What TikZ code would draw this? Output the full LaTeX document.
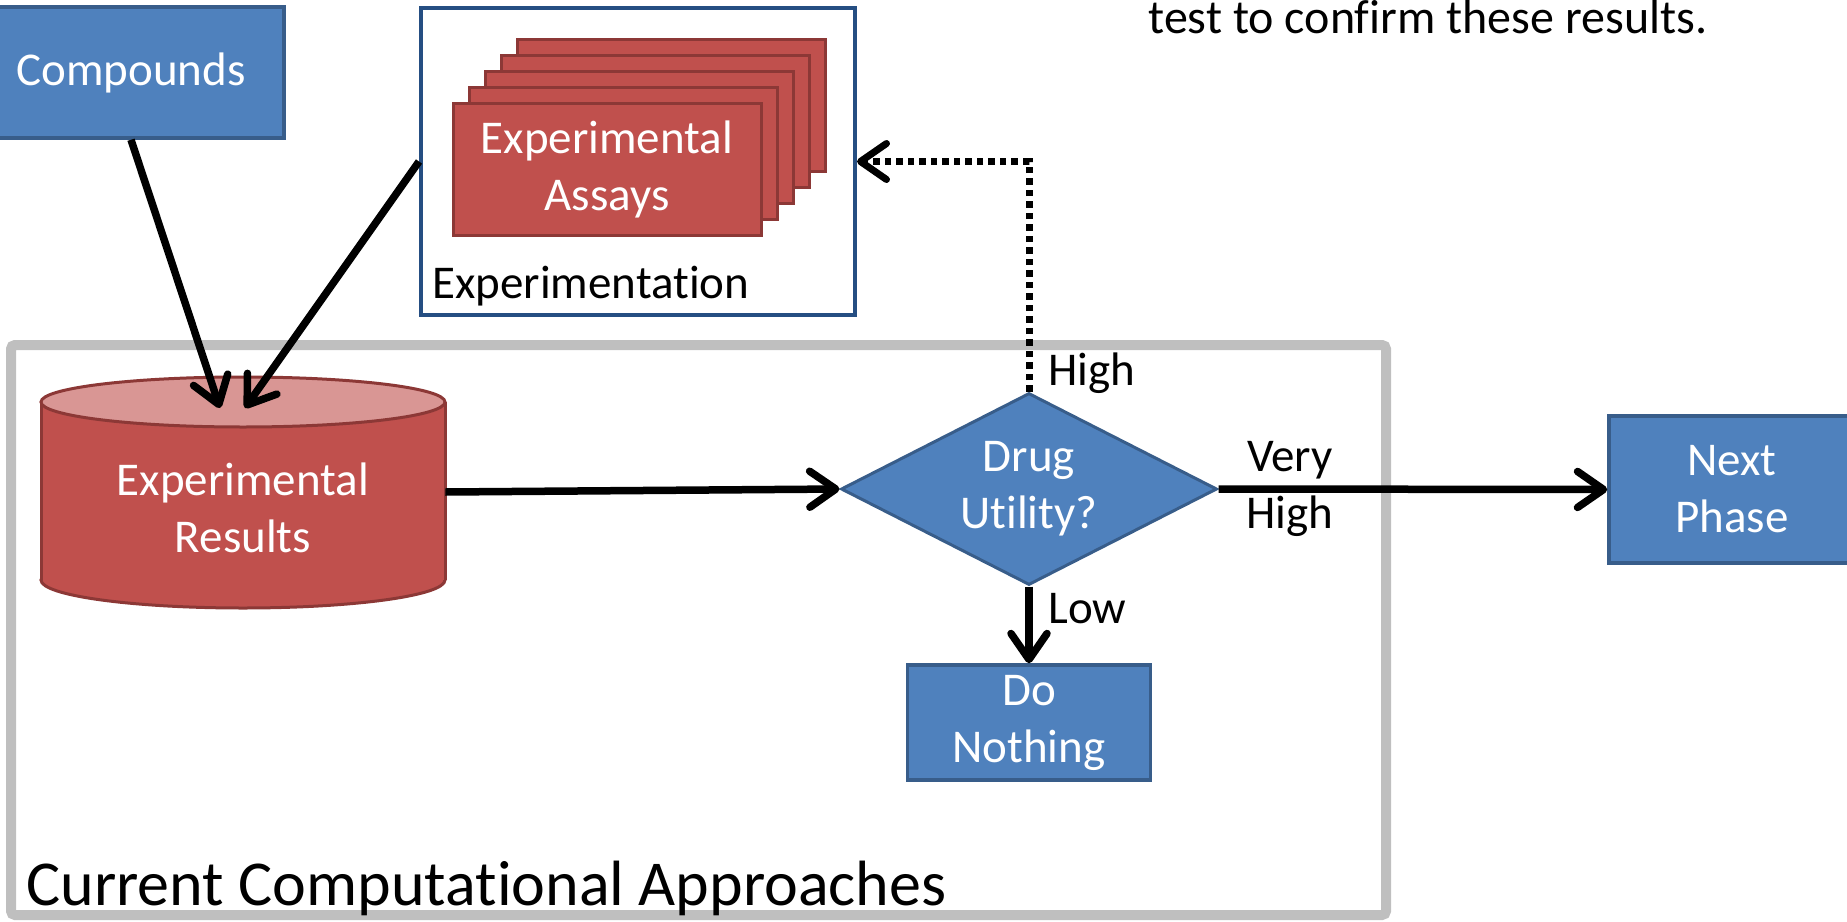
\documentclass[tikz,border=0pt]{standalone}
\usepackage{fontspec}
\setmainfont{Carlito}[Ligatures={NoCommon,NoContextual,NoRare}]
\usetikzlibrary{arrows.meta,shapes.geometric}
\definecolor{boxblue}{HTML}{4F81BD}
\definecolor{boxblueborder}{HTML}{385D8A}
\definecolor{boxred}{HTML}{C0504D}
\definecolor{boxredborder}{HTML}{8C3836}
\definecolor{cyltop}{HTML}{D99694}
\definecolor{greyframe}{HTML}{BFBFBF}
\definecolor{expborder}{HTML}{254E82}
\begin{document}
\begin{tikzpicture}[x=0.5pt,y=-0.5pt,
  txt/.style={font=\fontsize{23.5}{28.5}\selectfont, align=center},
  bluebox/.style={txt, draw=boxblueborder, fill=boxblue, line width=1.75pt, text=white, inner sep=0pt},
  redbox/.style={draw=boxredborder, fill=boxred, line width=1.5pt, inner sep=0pt, minimum width=154pt, minimum height=66pt},
  conn/.style={line width=3.75pt, -{Straight Barb[length=13pt,width=18pt,round]}, black},
  lbl/.style={txt, inner sep=0pt, text=black},
]
\useasboundingbox (0,0) rectangle (1847,921);
\clip (0,0) rectangle (1847,921);

% grey frame
\node[draw=greyframe, line width=5pt, rounded corners=2pt, minimum width=687.5pt, minimum height=285pt, inner sep=0pt] (frame) at (698.5,630) {};
\node[lbl, font=\fontsize{32}{38}\selectfont, anchor=base west] (cca) at (26,905) {Current Computational Approaches};

% compounds
\node[bluebox, minimum width=153pt, minimum height=65.5pt] (comp) at (131,72.5) {Compounds};

% experimentation box
\node[draw=expborder, fill=white, line width=2pt, minimum width=217pt, minimum height=153.5pt, inner sep=0pt] (exp) at (638,161.5) {};
\foreach \i in {4,3,2,1} \node[redbox] (assay\i) at (607+16*\i, 169-16*\i) {};
\node[redbox, txt, text=white] (assay) at (607,169) {Experimental\\Assays};
\node[lbl, anchor=base west] (explbl) at (432,298) {Experimentation};

% cylinder
\draw[boxredborder, line width=1.5pt, fill=boxred] (243,580) ellipse [x radius=202, y radius=28];
\fill[boxred] (41,402) rectangle (445,580);
\draw[boxredborder, line width=1.5pt] (41,402) -- (41,580) (445,402) -- (445,580);
\draw[boxredborder, line width=1.5pt, fill=cyltop] (243,402) ellipse [x radius=202, y radius=25];
\node[minimum width=202pt, minimum height=116pt, inner sep=0pt] (cyl) at (243,492) {};
\node[txt, text=white, inner sep=0pt] (cyltext) at (243,508) {Experimental\\Results};

% diamond
\node[diamond, aspect=2, draw=boxblueborder, fill=boxblue, line width=1.5pt, minimum width=188pt, minimum height=96pt, inner sep=0pt, txt, text=white] (dia) at (1029,489) {Drug\\Utility?};

% outcome boxes
\node[bluebox, minimum width=123pt, minimum height=73.5pt] (next) at (1732,489.5) {Next\\Phase};
\node[bluebox, minimum width=121.5pt, minimum height=57.5pt] (donothing) at (1029,722.5) {Do\\Nothing};

% connectors
\coordinate (cin1) at (220,408);
\coordinate (cin2) at (245,408);
\draw[conn] (comp.south) -- (cin1);
\draw[conn] (exp.west) -- (cin2);
\draw[conn] (cyl.east) -- (dia.west);
\draw[conn] (dia.east) -- (next.west);
\draw[conn] (dia.south) -- (donothing.north);
\draw[conn, line width=3.5pt, dash pattern=on 3.25pt off 2.5pt] (dia.north) |- (exp.east);

% labels
\node[lbl, anchor=west] (lhigh) at (1048,373) {High};
\node[lbl] (lvh) at (1290,489) {Very\\High};
\node[lbl, anchor=west] (llow) at (1048,609) {Low};
\node[lbl, font=\fontsize{24}{29}\selectfont, anchor=base west] (note) at (1148,33) {test to confirm these results.};
\end{tikzpicture}
\end{document}
